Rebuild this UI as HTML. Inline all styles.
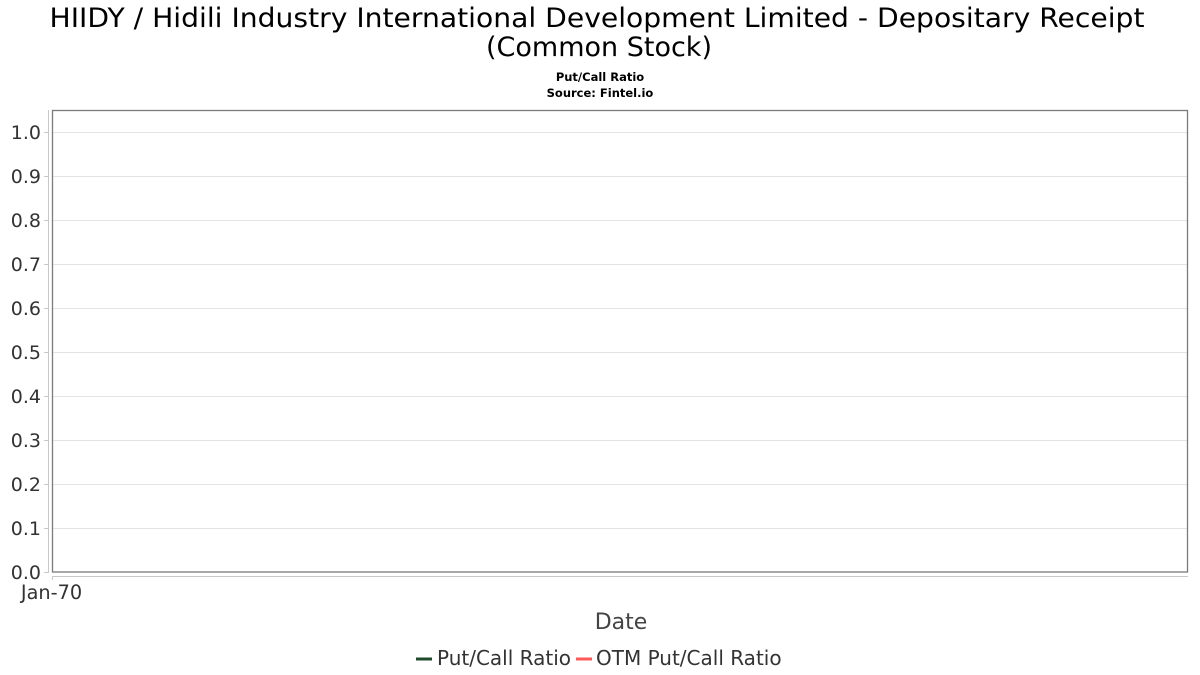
<!DOCTYPE html>
<html>
<head>
<meta charset="utf-8">
<style>
  html,body{margin:0;padding:0;background:#fff;}
  svg{display:block;}
  text{font-family:"DejaVu Sans","Liberation Sans",sans-serif;}
</style>
</head>
<body>
<svg width="1200" height="675" viewBox="0 0 1200 675" xmlns="http://www.w3.org/2000/svg">
  <rect x="0" y="0" width="1200" height="675" fill="#ffffff"/>

  <!-- Title -->
  <text x="597" y="27" font-size="27" text-anchor="middle" fill="#000" textLength="1095" lengthAdjust="spacingAndGlyphs">HIIDY / Hidili Industry International Development Limited - Depositary Receipt</text>
  <text x="599" y="56" font-size="27" text-anchor="middle" fill="#000">(Common Stock)</text>
  <text x="600" y="81" font-size="11.5" font-weight="bold" text-anchor="middle" fill="#000">Put/Call Ratio</text>
  <text x="600" y="97" font-size="11.5" font-weight="bold" text-anchor="middle" fill="#000">Source: Fintel.io</text>

  <!-- Gridlines -->
  <g stroke="#e3e3e3" stroke-width="1">
    <line x1="52" y1="132.5" x2="1188" y2="132.5"/>
    <line x1="52" y1="176.5" x2="1188" y2="176.5"/>
    <line x1="52" y1="220.5" x2="1188" y2="220.5"/>
    <line x1="52" y1="264.5" x2="1188" y2="264.5"/>
    <line x1="52" y1="308.5" x2="1188" y2="308.5"/>
    <line x1="52" y1="352.5" x2="1188" y2="352.5"/>
    <line x1="52" y1="396.5" x2="1188" y2="396.5"/>
    <line x1="52" y1="440.5" x2="1188" y2="440.5"/>
    <line x1="52" y1="484.5" x2="1188" y2="484.5"/>
    <line x1="52" y1="528.5" x2="1188" y2="528.5"/>
  </g>

  <!-- Plot box -->
  <rect x="52.5" y="110.5" width="1135" height="461.5" fill="none" stroke="#7a7a7a" stroke-width="1.3"/>

  <!-- Y axis line and ticks -->
  <g stroke="#c8c8c8" stroke-width="1">
    <line x1="48.5" y1="110" x2="48.5" y2="573"/>
    <line x1="44" y1="132.5" x2="48" y2="132.5"/>
    <line x1="44" y1="176.5" x2="48" y2="176.5"/>
    <line x1="44" y1="220.5" x2="48" y2="220.5"/>
    <line x1="44" y1="264.5" x2="48" y2="264.5"/>
    <line x1="44" y1="308.5" x2="48" y2="308.5"/>
    <line x1="44" y1="352.5" x2="48" y2="352.5"/>
    <line x1="44" y1="396.5" x2="48" y2="396.5"/>
    <line x1="44" y1="440.5" x2="48" y2="440.5"/>
    <line x1="44" y1="484.5" x2="48" y2="484.5"/>
    <line x1="44" y1="528.5" x2="48" y2="528.5"/>
    <line x1="44" y1="572.5" x2="48" y2="572.5"/>
    <!-- X axis line -->
    <line x1="52" y1="576.5" x2="1188" y2="576.5"/>
    <line x1="52.5" y1="576" x2="52.5" y2="580"/>
  </g>

  <!-- Y labels -->
  <g font-size="19" fill="#333" text-anchor="end">
    <text x="41" y="139">1.0</text>
    <text x="41" y="183">0.9</text>
    <text x="41" y="227">0.8</text>
    <text x="41" y="271">0.7</text>
    <text x="41" y="315">0.6</text>
    <text x="41" y="359">0.5</text>
    <text x="41" y="403">0.4</text>
    <text x="41" y="447">0.3</text>
    <text x="41" y="491">0.2</text>
    <text x="41" y="535">0.1</text>
    <text x="41" y="579">0.0</text>
  </g>

  <!-- X label -->
  <text x="51.5" y="599" font-size="19.3" fill="#333" text-anchor="middle">Jan-70</text>
  <text x="621" y="629" font-size="22" fill="#444" text-anchor="middle">Date</text>

  <!-- Legend -->
  <line x1="416" y1="659" x2="432" y2="659" stroke="#1f4a2c" stroke-width="3"/>
  <text x="437" y="665" font-size="20" fill="#333">Put/Call Ratio</text>
  <line x1="576" y1="659" x2="592" y2="659" stroke="#ff5a5a" stroke-width="3"/>
  <text x="596" y="665" font-size="20" fill="#333">OTM Put/Call Ratio</text>
</svg>
</body>
</html>
